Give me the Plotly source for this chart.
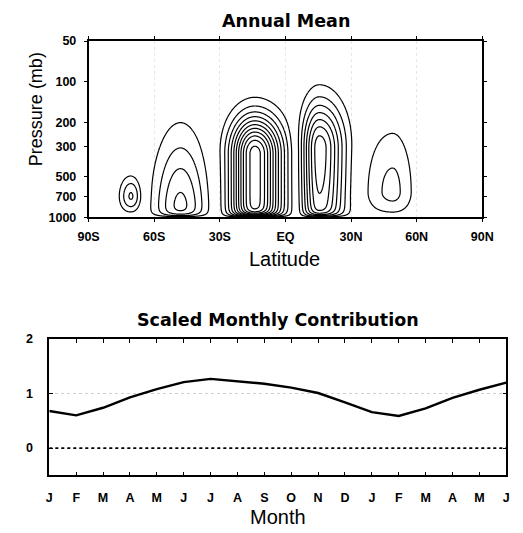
import numpy as np
import plotly.graph_objects as go

# ---------------- data ----------------
# Annual-mean circulation cells: centre, outer-contour edges, peak (in contour intervals)
cell_lat_center = [-70.5, -48.0, -14.0, 15.5, 49.0]
cell_lat_south = [-76.0, -62.0, -30.5, 4.5, 37.0]
cell_lat_north = [-65.5, -34.0, 4.5, 31.0, 57.5]
cell_p_center = [700.0, 980.0, 340.0, 310.0, 650.0]
cell_p_top = [490.0, 200.0, 130.0, 105.0, 240.0]
cell_p_bottom = [940.0, np.inf, np.inf, 15000.0, 950.0]
cell_sign = [1, -1, 1, -1, 1]
cell_peak = [3.2, 4.4, 11.5, 7.6, 2.3]

lat_tickvals = [-90, -60, -30, 0, 30, 60, 90]
lat_ticktext = ["90S", "60S", "30S", "EQ", "30N", "60N", "90N"]
p_tickvals = [50, 100, 200, 300, 500, 700, 1000]

months = ["J", "F", "M", "A", "M", "J", "J", "A", "S", "O", "N", "D",
          "J", "F", "M", "A", "M", "J"]
monthly_contribution = [0.68, 0.60, 0.74, 0.93, 1.08, 1.21, 1.27, 1.23, 1.18,
                        1.11, 1.01, 0.84, 0.66, 0.59, 0.73, 0.92, 1.07, 1.20]

# ---------------- build the contour field from the cells ----------------
lat = np.linspace(-90, 90, 721)
s = np.linspace(np.log10(50), 3.0, 400)
LAT, S = np.meshgrid(lat, s)
field = np.zeros_like(LAT)
n_lat, n_up, n_dn = 2.0, 2.0, 2.0
for c, ls, ln, pc, pt, pb, sg, A in zip(cell_lat_center, cell_lat_south, cell_lat_north,
                                        cell_p_center, cell_p_top, cell_p_bottom,
                                        cell_sign, cell_peak):
    lnA = np.log(A)
    Llat = lnA ** (1 / n_lat)
    wl = np.where(LAT < c, (c - ls) / Llat, (ln - c) / Llat)
    glat = np.exp(-(np.abs(LAT - c) / wl) ** n_lat)
    sc, st = np.log10(pc), np.log10(pt)
    w_up = (sc - st) / lnA ** (1 / n_up)
    up = np.exp(-(np.clip(sc - S, 0, None) / w_up) ** n_up)
    if np.isfinite(pb):
        w_dn = (np.log10(pb) - sc) / lnA ** (1 / n_dn)
        dn = np.exp(-(np.clip(S - sc, 0, None) / w_dn) ** n_dn)
    else:
        dn = np.ones_like(S)
    field += sg * A * glat * up * dn
surface = 1 - np.exp(-(3.0 - S) / 0.02)
field = np.abs(field * surface)

fig = go.Figure()
fig.add_trace(go.Contour(
    x=lat, y=10 ** s, z=field,
    contours=dict(start=1, end=12, size=1, coloring="lines"),
    colorscale=[[0, "black"], [1, "black"]], showscale=False,
    line=dict(width=1.2, smoothing=1), hoverinfo="skip",
    xaxis="x", yaxis="y"))

xm = list(range(len(months)))
fig.add_trace(go.Scatter(x=[xm[0], xm[-1]], y=[0, 0], mode="lines",
                         line=dict(color="black", width=1.6, dash="dot"),
                         xaxis="x2", yaxis="y2", showlegend=False))
fig.add_trace(go.Scatter(x=xm, y=monthly_contribution, mode="lines",
                         line=dict(color="black", width=2.4),
                         xaxis="x2", yaxis="y2", showlegend=False))

W, H = 523, 533
LIB = "Liberation Sans, Arial, sans-serif"
DJV = "DejaVu Sans, sans-serif"
tickfont = dict(family=LIB, size=12.5, color="black", weight="bold")

fig.update_layout(
    width=W, height=H, margin=dict(l=0, r=0, t=0, b=0),
    paper_bgcolor="white", plot_bgcolor="white", showlegend=False,
    font=dict(family=LIB, color="black"),
    xaxis=dict(domain=[81 / W, 492 / W], range=[-90, 90], tickvals=lat_tickvals,
               ticktext=lat_ticktext, ticks="outside", ticklen=3, tickcolor="black",
               ticklabelstandoff=4,
               showline=True, linecolor="black", linewidth=1.5, mirror="ticks",
               showgrid=True, gridcolor="#e6e6e6", griddash="dot", gridwidth=1,
               zeroline=False, tickfont=tickfont, anchor="y"),
    yaxis=dict(domain=[1 - 216 / H, 1 - 35 / H], type="log",
               range=[3, np.log10(50)], tickvals=p_tickvals,
               ticktext=[str(v) for v in p_tickvals], ticks="outside", ticklen=3,
               tickcolor="black", ticklabelstandoff=5, showline=True,
               linecolor="black", linewidth=1.5,
               mirror="ticks", showgrid=False, zeroline=False, tickfont=tickfont,
               anchor="x"),
    xaxis2=dict(domain=[40 / W, 517 / W], range=[0, len(months) - 1], tickvals=xm,
                ticktext=months, ticks="inside", ticklen=4, tickcolor="black",
                ticklabelstandoff=10,
                showline=True, linecolor="black", linewidth=1.5, mirror="ticks",
                showgrid=False, zeroline=False, tickfont=tickfont, anchor="y2"),
    yaxis2=dict(domain=[1 - 481 / H, 1 - 341 / H], range=[-0.5, 2], tickvals=[0, 1, 2],
                ticks="inside", ticklen=4, tickcolor="black", ticklabelstandoff=12,
                showline=True, linecolor="black", linewidth=1.5, mirror="ticks",
                showgrid=True, gridcolor="#cfcfcf", griddash="dot", gridwidth=1,
                zeroline=False, tickfont=tickfont, anchor="x2"),
)

texts = [
    dict(text="Annual Mean", x=287, y=14, fam=DJV, size=17.5, weight="bold", angle=0),
    dict(text="Scaled Monthly Contribution", x=279, y=321, fam=DJV, size=17.5,
         weight="bold", angle=0),
    dict(text="Latitude", x=286, y=259, fam=LIB, size=20, weight="normal", angle=0),
    dict(text="Month", x=279, y=524, fam=LIB, size=20, weight="normal", angle=0),
    dict(text="Pressure (mb)", x=26, y=105, fam=LIB, size=18, weight="normal", angle=-90),
]
for t in texts:
    fig.add_annotation(text=t["text"], x=t["x"] / W, y=1 - t["y"] / H, xref="paper",
                       yref="paper", showarrow=False, xanchor="center",
                       yanchor="middle", textangle=t["angle"],
                       font=dict(family=t["fam"], size=t["size"], color="black",
                                 weight=t["weight"]))

fig.write_html("out.html")
